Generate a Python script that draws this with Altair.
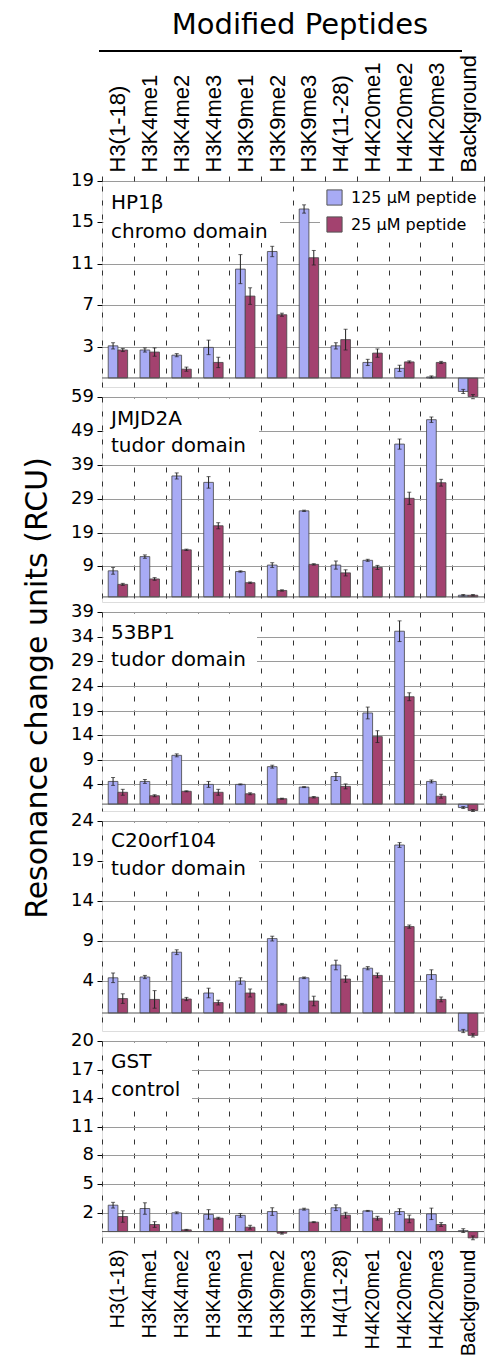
import altair as alt
import pandas as pd

categories = ["H3(1-18)", "H3K4me1", "H3K4me2", "H3K4me3", "H3K9me1", "H3K9me2",
              "H3K9me3", "H4(11-28)", "H4K20me1", "H4K20me2", "H4K20me3", "Background"]
series = ["125 μM peptide", "25 μM peptide"]
colors = ["#A8ABF5", "#A3426F"]

panel_names = ["HP1β", "JMJD2A", "53BP1", "C20orf104", "GST"]
panel_subs = ["chromo domain", "tudor domain", "tudor domain", "tudor domain", "control"]

# HP1beta chromo domain
hp1_125 = [3.1, 2.7, 2.2, 2.95, 10.5, 12.2, 16.3, 3.1, 1.5, 0.93, 0.1, -1.3]
hp1_125_err = [0.3, 0.2, 0.15, 0.7, 1.4, 0.5, 0.4, 0.3, 0.3, 0.3, 0.1, 0.2]
hp1_25 = [2.7, 2.5, 0.85, 1.5, 7.9, 6.1, 11.6, 3.7, 2.4, 1.55, 1.5, -1.8]
hp1_25_err = [0.15, 0.4, 0.2, 0.5, 0.8, 0.15, 0.7, 1.0, 0.4, 0.1, 0.1, 0.2]

# JMJD2A tudor domain
jmj_125 = [7.7, 11.9, 35.7, 33.8, 7.5, 9.4, 25.4, 9.4, 10.8, 45.1, 52.3, 0.5]
jmj_125_err = [1.0, 0.5, 0.9, 1.7, 0.2, 0.7, 0.2, 1.2, 0.3, 1.5, 0.8, 0.2]
jmj_25 = [3.7, 5.3, 13.9, 21.0, 4.2, 1.9, 9.6, 7.1, 8.7, 29.1, 33.7, 0.5]
jmj_25_err = [0.3, 0.4, 0.2, 0.9, 0.2, 0.2, 0.2, 0.9, 0.6, 1.8, 1.0, 0.2]

# 53BP1 tudor domain
bp1_125 = [4.6, 4.6, 9.9, 4.0, 4.0, 7.6, 3.45, 5.6, 18.5, 35.1, 4.6, -0.7]
bp1_125_err = [0.8, 0.4, 0.3, 0.6, 0.1, 0.3, 0.1, 0.8, 1.2, 2.1, 0.3, 0.2]
bp1_25 = [2.4, 1.7, 2.6, 2.4, 2.1, 1.1, 1.4, 3.6, 13.7, 21.8, 1.6, -1.3]
bp1_25_err = [0.6, 0.2, 0.1, 0.6, 0.2, 0.1, 0.15, 0.5, 1.2, 0.8, 0.4, 0.2]

# C20orf104 tudor domain
c20_125 = [4.4, 4.5, 7.6, 2.5, 4.0, 9.3, 4.4, 6.0, 5.6, 21.0, 4.8, -2.25]
c20_125_err = [0.6, 0.2, 0.3, 0.6, 0.4, 0.3, 0.1, 0.6, 0.2, 0.3, 0.6, 0.2]
c20_25 = [1.8, 1.7, 1.75, 1.3, 2.5, 1.1, 1.5, 4.25, 4.7, 10.8, 1.7, -2.8]
c20_25_err = [0.6, 1.1, 0.2, 0.3, 0.5, 0.1, 0.6, 0.4, 0.3, 0.2, 0.3, 0.2]

# GST control
gst_125 = [2.77, 2.42, 1.97, 1.8, 1.7, 2.1, 2.35, 2.5, 2.17, 2.1, 1.86, 0.1]
gst_125_err = [0.3, 0.6, 0.1, 0.5, 0.2, 0.4, 0.1, 0.3, 0.05, 0.3, 0.6, 0.2]
gst_25 = [1.58, 0.74, 0.18, 1.4, 0.46, -0.17, 0.99, 1.72, 1.4, 1.33, 0.74, -0.66]
gst_25_err = [0.6, 0.3, 0.05, 0.1, 0.2, 0.1, 0.05, 0.3, 0.2, 0.4, 0.2, 0.2]

tick_values = [
    [3, 7, 11, 15, 19],
    [9, 19, 29, 39, 49, 59],
    [4, 9, 14, 19, 24, 29, 34, 39],
    [4, 9, 14, 19, 24],
    [2, 5, 8, 11, 14, 17, 20],
]
domains = [[-0.87, 19], [-1.5, 59], [-1.4, 39], [-2.25, 24], [-0.57, 20]]
heights = [206, 205, 199, 210, 196]
label_y = [(28, 57), (28, 55), (27, 54), (26, 54), (27, 55)]
box_w = [178, 157, 155, 157, 90]

data_sets = [
    (hp1_125, hp1_125_err, hp1_25, hp1_25_err),
    (jmj_125, jmj_125_err, jmj_25, jmj_25_err),
    (bp1_125, bp1_125_err, bp1_25, bp1_25_err),
    (c20_125, c20_125_err, c20_25, c20_25_err),
    (gst_125, gst_125_err, gst_25, gst_25_err),
]

W = 382


def make_df(v1, e1, v2, e2):
    rows = []
    for i, c in enumerate(categories):
        rows.append(dict(cat=c, series=series[0], value=v1[i], lo=v1[i] - e1[i], hi=v1[i] + e1[i]))
        rows.append(dict(cat=c, series=series[1], value=v2[i], lo=v2[i] - e2[i], hi=v2[i] + e2[i]))
    return pd.DataFrame(rows)


def one(v, k=0):
    return pd.DataFrame({"t": [v], "k": [k]})


def panel(idx, pos):
    df = make_df(*data_sets[idx])
    common = dict(tickBand="extent", grid=True, gridDash=[5, 9], gridColor="#333333",
                  gridWidth=1, title=None, domain=False, labelOverlap=False)
    if pos == "top":
        xax = alt.Axis(orient="top", labelAngle=270, labelAlign="left", labelBaseline="middle",
                       labelFont="Liberation Sans", labelFontSize=22, labelPadding=4,
                       labelColor="black", ticks=True, tickSize=5, tickColor="#333333", **common)
    elif pos == "bottom":
        xax = alt.Axis(orient="bottom", labelAngle=270, labelAlign="right", labelBaseline="middle",
                       labelFont="Liberation Sans", labelFontSize=20, labelPadding=6,
                       labelColor="black", ticks=True, tickSize=6, tickColor="#555555", **common)
    else:
        xax = alt.Axis(labels=False, ticks=False, **common)

    x_enc = alt.X("cat:N", sort=categories, scale=alt.Scale(paddingInner=0, paddingOuter=0), axis=xax)
    xo_enc = alt.XOffset("series:N", sort=series, scale=alt.Scale(paddingInner=0, paddingOuter=0.64))
    yscale = alt.Scale(domain=domains[idx], nice=False, zero=False)
    yaxis = alt.Axis(values=tick_values[idx], tickCount=30, title=None, grid=True,
                     gridColor="#9a9a9a", gridWidth=1, labels=False, tickSize=5,
                     tickColor="black", domain=False)
    y_enc = alt.Y("value:Q", scale=yscale, axis=yaxis)

    if idx == 0:
        legend = alt.Legend(title=None, orient="none", legendX=218, legendY=2, symbolType="square",
                            symbolSize=230, symbolStrokeWidth=1, symbolStrokeColor="#555555",
                            symbolOpacity=1,
                            labelFont="DejaVu Sans", labelFontSize=16, labelColor="black",
                            rowPadding=6, labelOffset=8, fillColor="white", padding=6,
                            labelExpr="datum.label == '25 μM peptide' ? '\u2007' + datum.label : datum.label")
    else:
        legend = None
    color_enc = alt.Color("series:N", sort=series, scale=alt.Scale(domain=series, range=colors),
                          legend=legend)

    box = alt.Chart(one("b", idx)).mark_rect(fill="white").encode(
        x=alt.value(1.5), x2=alt.value(box_w[idx]), y=alt.value(1.5), y2=alt.value(62))
    zero = alt.Chart(one(0, idx)).mark_rule(color="#555555", strokeWidth=1).encode(
        y=alt.Y("t:Q", scale=yscale, axis=yaxis))
    bars = alt.Chart(df).mark_bar(stroke="#444444", strokeWidth=0.8, opacity=1).encode(
        x=x_enc, xOffset=xo_enc, y=y_enc, y2=alt.datum(0), color=color_enc)
    err = alt.Chart(df).mark_rule(color="#222222", strokeWidth=1).encode(
        x=x_enc, xOffset=xo_enc, y=alt.Y("lo:Q", scale=yscale, axis=yaxis), y2="hi:Q")
    cap_lo = alt.Chart(df).mark_tick(color="#222222", size=4, thickness=1).encode(
        x=x_enc, xOffset=xo_enc, y=alt.Y("lo:Q", scale=yscale, axis=yaxis))
    cap_hi = alt.Chart(df).mark_tick(color="#222222", size=4, thickness=1).encode(
        x=x_enc, xOffset=xo_enc, y=alt.Y("hi:Q", scale=yscale, axis=yaxis))
    name = alt.Chart(one(panel_names[idx], idx)).mark_text(
        font="DejaVu Sans", fontSize=20, align="left", baseline="alphabetic", color="black").encode(
        text="t:N", x=alt.value(9), y=alt.value(label_y[idx][0]))
    sub = alt.Chart(one(panel_subs[idx], idx)).mark_text(
        font="DejaVu Sans", fontSize=20, align="left", baseline="alphabetic", color="black").encode(
        text="t:N", x=alt.value(9), y=alt.value(label_y[idx][1]))
    ylab_df = pd.DataFrame({"v": tick_values[idx], "lab": [str(v) for v in tick_values[idx]],
                            "k": [idx] * len(tick_values[idx])})
    ylabels = alt.Chart(ylab_df).mark_text(
        font="DejaVu Sans", fontSize=18, align="right", baseline="middle", color="black").encode(
        text="lab:N", x=alt.value(-8), y=alt.Y("v:Q", scale=yscale, axis=yaxis))

    layers = [box, bars, zero, err, cap_lo, cap_hi, name, sub]
    if idx == 0:
        title = alt.Chart(one("Modified Peptides")).mark_text(
            font="DejaVu Sans", fontSize=29, align="center", baseline="alphabetic", color="black").encode(
            text="t:N", x=alt.value(198), y=alt.value(-147))
        tline = alt.Chart(one("l")).mark_rule(color="black", strokeWidth=2).encode(
            x=alt.value(-3), x2=alt.value(360), y=alt.value(-130))
        layers += [title, tline]
    if idx == 4:
        ytitle = alt.Chart(one("Resonance change units (RCU)")).mark_text(
            font="DejaVu Sans", fontSize=30, align="center", baseline="alphabetic", angle=270,
            color="black").encode(text="t:N", x=alt.value(-55), y=alt.value(-353))
        layers.append(ytitle)
    layers.append(ylabels)
    return alt.layer(*layers).properties(width=W, height=heights[idx])


panels = [panel(0, "top"), panel(1, "mid"), panel(2, "mid"), panel(3, "mid"), panel(4, "bottom")]

chart = alt.vconcat(*panels, spacing=10, bounds="flush").resolve_scale(
    color="independent"
).properties(
    padding={"left": 14, "top": 2, "right": 0, "bottom": 0}
).configure_view(
    stroke="black", strokeWidth=2
).configure(
    background="white"
)

chart.save("out.html", embed_options={"renderer": "svg", "actions": False})
